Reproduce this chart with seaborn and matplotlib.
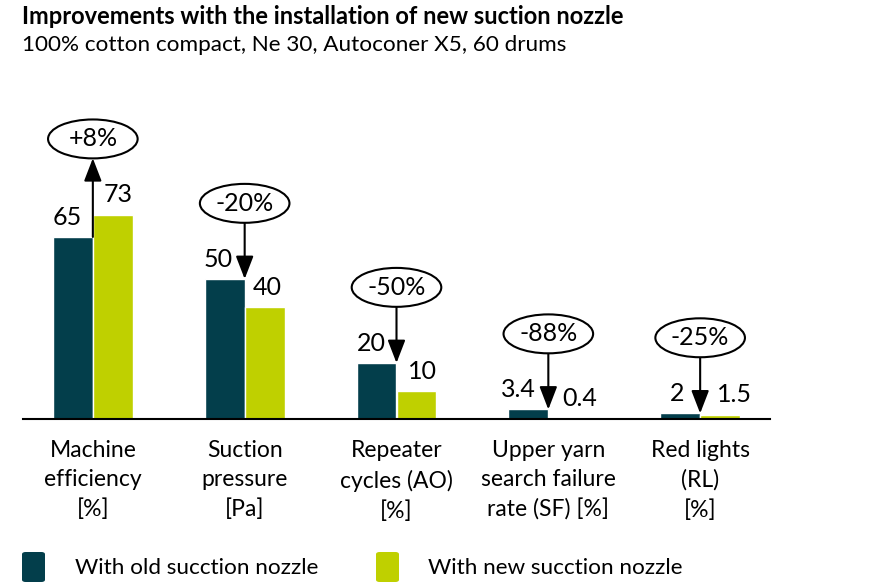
import pandas as pd
import matplotlib
matplotlib.use("Agg")
import matplotlib.pyplot as plt
from matplotlib.patches import Ellipse, FancyBboxPatch
import seaborn as sns

# data
categories = ["Machine\nefficiency\n[%]", "Suction\npressure\n[Pa]", "Repeater\ncycles (AO)\n[%]",
              "Upper yarn\nsearch failure\nrate (SF) [%]", "Red lights\n(RL)\n[%]"]
old_vals = [65, 50, 20, 3.4, 2]
new_vals = [73, 40, 10, 0.4, 1.5]
old_labels = ["65", "50", "20", "3.4", "2"]
new_labels = ["73", "40", "10", "0.4", "1.5"]
changes = ["+8%", "-20%", "-50%", "-88%", "-25%"]
series = ["With old sucction nozzle", "With new sucction nozzle"]

df = pd.DataFrame({
    "category": categories * 2,
    "value": old_vals + new_vals,
    "nozzle": [series[0]] * 5 + [series[1]] * 5,
})

sns.set_style("white")
plt.rcParams["font.family"] = ["Lato", "DejaVu Sans"]
plt.rcParams["text.color"] = "black"
plt.rcParams["xtick.color"] = "black"

dark = "#033e4b"
lime = "#bfd000"
colors = [dark, lime]

fig = plt.figure(figsize=(8.9, 5.86), dpi=100)
ax = fig.add_axes([23 / 890, 167 / 586, 747 / 890, 319 / 586])

sns.barplot(data=df, x="category", y="value", hue="nozzle", palette=colors,
            width=0.526, saturation=1, ax=ax)
ax.legend_.remove()

ax.set_xlim(-0.46, 4.46)
ax.set_ylim(0, 113.9)
ax.set_xlabel("")
ax.set_ylabel("")
ax.set_yticks([])
for s in ["top", "right", "left"]:
    ax.spines[s].set_visible(False)
ax.spines["bottom"].set_color("black")
ax.spines["bottom"].set_linewidth(1.5)
ax.tick_params(axis="x", length=0, pad=15, labelsize=16.5, labelcolor="black")
for lbl in ax.get_xticklabels():
    lbl.set_linespacing(1.48)

# value labels
old_dx = [-4, -5, -4, -7, -2]
new_dx = [4, 2, 4, 8, 10]
for i in range(5):
    ax.annotate(old_labels[i], (i - 0.1315, old_vals[i]), xytext=(old_dx[i], 6),
                textcoords="offset points", ha="center", va="bottom", fontsize=18)
    ax.annotate(new_labels[i], (i + 0.1315, new_vals[i]), xytext=(new_dx[i], 6),
                textcoords="offset points", ha="center", va="bottom", fontsize=18)

# change bubbles with arrows
for i in range(5):
    top = max(old_vals[i], new_vals[i])
    cy = top + 27
    ell = Ellipse((i, cy), 0.59, 13.9, facecolor="white", edgecolor="black", lw=1.5, zorder=4)
    ax.add_patch(ell)
    ax.text(i, cy, changes[i], ha="center", va="center", fontsize=18, zorder=5)
    if new_vals[i] > old_vals[i]:
        start, end = old_vals[i], cy - 6.9
    else:
        start, end = cy - 6.9, old_vals[i]
    ax.annotate("", xy=(i, end), xytext=(i, start),
                arrowprops=dict(arrowstyle="-|>,head_length=0.7,head_width=0.27",
                                mutation_scale=20, color="black", lw=1.5,
                                shrinkA=0, shrinkB=0), zorder=3)

# legend boxes
for j, (x0, tx) in enumerate([(22, 75), (376, 428)]):
    box = FancyBboxPatch((x0 / 890, 4 / 586), 23 / 890, 30 / 586,
                         boxstyle="round,pad=0,rounding_size=0.004",
                         transform=fig.transFigure, facecolor=colors[j], edgecolor="none")
    fig.patches.append(box)
    fig.text(tx / 890, 18 / 586, series[j], fontsize=16.2, va="center", ha="left")

fig.text(22 / 890, 1 - 17 / 586, "Improvements with the installation of new suction nozzle",
         fontsize=17, fontweight="bold", va="center", ha="left")
fig.text(22 / 890, 1 - 45 / 586, "100% cotton compact, Ne 30, Autoconer X5, 60 drums",
         fontsize=16.2, va="center", ha="left")

plt.savefig("out.png", dpi=100)
